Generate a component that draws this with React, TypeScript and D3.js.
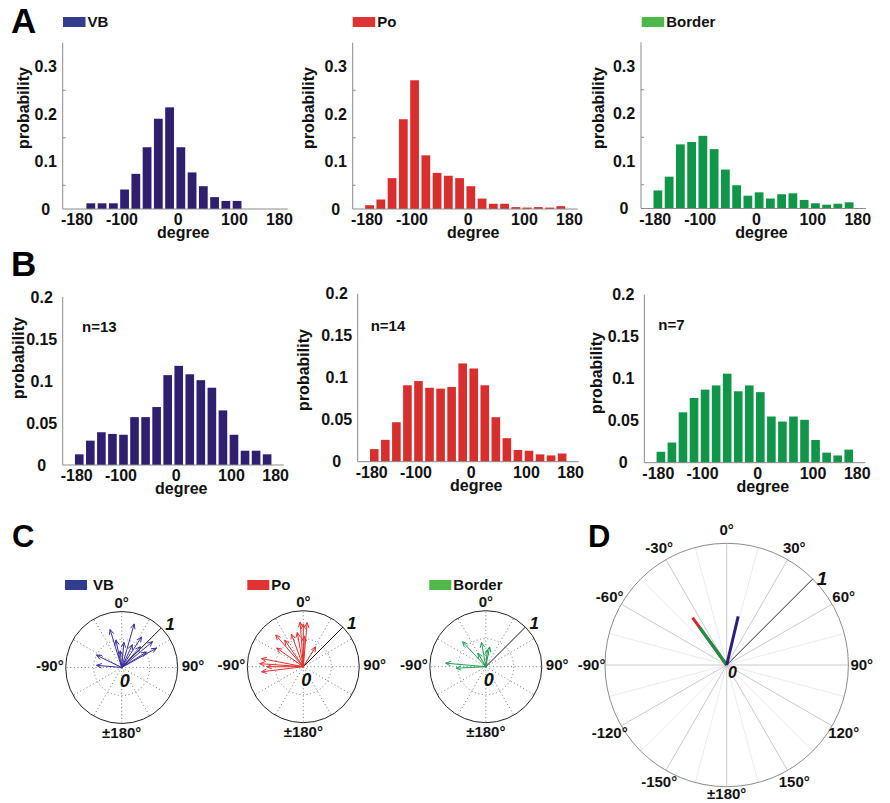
import React from 'react';
import * as d3 from 'd3';

// ---------- data ----------
const binCenters = [-170, -150, -130, -110, -90, -70, -50, -30, -10, 10, 30, 50, 70, 90, 110, 130, 150, 170];
const xTickValues = [-180, -100, 0, 100, 180];
const xTickLabels = ['-180', '-100', '0', '100', '180'];
const aYTicks = [0, 0.1, 0.2, 0.3];
const aYTickLabels = ['0', '0.1', '0.2', '0.3'];
const aMinorTicks = [0.05, 0.15, 0.25];
const bYTicks = [0, 0.05, 0.1, 0.15, 0.2];
const bYTickLabels = ['0', '0.05', '0.1', '0.15', '0.2'];
const groupNames = ['VB', 'Po', 'Border'];
const nLabels = ['n=13', 'n=14', 'n=7'];

const aVB = [0, 0.012, 0.012, 0.012, 0.041, 0.074, 0.130, 0.190, 0.214, 0.130, 0.077, 0.048, 0.025, 0.017, 0.017, 0, 0, 0];
const aPo = [0.008, 0.020, 0.065, 0.189, 0.271, 0.113, 0.076, 0.070, 0.065, 0.048, 0.022, 0.011, 0.011, 0.004, 0.003, 0.004, 0.003, 0.006];
const aBorder = [0.038, 0.067, 0.135, 0.140, 0.153, 0.125, 0.082, 0.049, 0.027, 0.034, 0.021, 0.030, 0.032, 0.018, 0.011, 0.008, 0.010, 0.013];

const bVB = [0.0127, 0.029, 0.039, 0.037, 0.036, 0.057, 0.057, 0.069, 0.107, 0.118, 0.108, 0.101, 0.092, 0.065, 0.036, 0.017, 0.017, 0.0127];
const bPo = [0.015, 0.026, 0.047, 0.091, 0.096, 0.088, 0.087, 0.089, 0.117, 0.111, 0.091, 0.053, 0.028, 0.014, 0.013, 0.0087, 0.0075, 0.0098];
const bBorder = [0.013, 0.024, 0.060, 0.077, 0.087, 0.092, 0.106, 0.085, 0.092, 0.084, 0.055, 0.049, 0.055, 0.051, 0.027, 0.012, 0.0086, 0.0156];

// compass arrows (angle in degrees, 0 = up, clockwise positive; length as fraction of 1)
const cVBAngles = [-17, 16, 33, 50, 61, 58, -64, -85, -12, 5, 25, 42, -5];
const cVBLengths = [0.71, 0.81, 0.65, 0.72, 0.71, 0.52, 0.50, 0.45, 0.50, 0.45, 0.45, 0.50, 0.30];
const cPoAngles = [-4, 5, 0, -41, -35, -20, -10, -55, -79, -86, -97, -90, 32, 2];
const cPoLengths = [0.80, 0.79, 0.76, 0.75, 0.58, 0.62, 0.62, 0.58, 0.76, 0.78, 0.75, 0.65, 0.42, 0.55];
const cBorderAngles = [-43, -10, 11, -30, -85, -93, 5];
const cBorderLengths = [0.61, 0.44, 0.36, 0.28, 0.72, 0.53, 0.30];

// population vectors (panel D), drawn in this order
const dNames = ['Po', 'Border', 'VB'];
const dAngles = [-35.8, -35.8, 13.3];
const dLengths = [0.48, 0.38, 0.41];

const polarLabelAngles = [0, 30, 60, 90, 120, 150, 180, -150, -120, -90, -60, -30];
const polarLabelTexts = ['0°', '30°', '60°', '90°', '120°', '150°', '±180°', '-150°', '-120°', '-90°', '-60°', '-30°'];

// ---------- styles ----------
const FONT = "'Liberation Sans', Arial, Helvetica, sans-serif";
const barColors: Record<string, string> = { VB: '#2f1f6e', Po: '#d92e2e', Border: '#119548' };
const legendColors: Record<string, string> = { VB: '#313d8f', Po: '#e03434', Border: '#4fb84a' };
const arrowColors: Record<string, string> = { VB: '#3b2e9c', Po: '#e3312f', Border: '#1ba150' };
const dColors: Record<string, string> = { VB: '#2c1f82', Po: '#d62a2a', Border: '#159445' };
const AXIS_GRAY = '#8a8a8a';

const polarXY = (cx: number, cy: number, r: number, deg: number) => {
  const a = (deg * Math.PI) / 180;
  return [cx + r * Math.sin(a), cy - r * Math.cos(a)];
};

type HistProps = {
  axisX: number; zeroY: number; w: number; h: number; ymax: number;
  data: number[]; color: string; ticks: number[]; tickLabels: string[]; minor?: number[];
  tickLabelDx: number; ylabX: number; ylabY: number; n?: string; nDx?: number; nY?: number;
};

function Hist(p: HistProps) {
  const x = d3.scaleLinear().domain([-200, 200]).range([p.axisX, p.axisX + p.w]);
  const y = d3.scaleLinear().domain([0, p.ymax]).range([p.zeroY, p.zeroY - p.h]);
  const band = x(20) - x(0);
  const bw = band * 0.78;
  return (
    <g fontFamily={FONT} fontWeight="bold">
      {binCenters.map((c, i) => p.data[i] > 0 ? (
        <rect key={i} x={x(c) - bw / 2} y={y(p.data[i])} width={bw} height={p.zeroY - y(p.data[i])} fill={p.color} />
      ) : null)}
      <line x1={p.axisX} x2={p.axisX} y1={p.zeroY} y2={p.zeroY - p.h} stroke={AXIS_GRAY} strokeWidth={1} />
      <line x1={p.axisX} x2={p.axisX + p.w} y1={p.zeroY} y2={p.zeroY} stroke={AXIS_GRAY} strokeWidth={1} />
      {(p.minor || []).map((t, i) => (
        <line key={'m' + i} x1={p.axisX} x2={p.axisX + 3} y1={y(t)} y2={y(t)} stroke={AXIS_GRAY} strokeWidth={1} />
      ))}
      {p.ticks.map((t, i) => (
        <text key={'t' + i} x={p.axisX + p.tickLabelDx} y={y(t) + 5.5} fontSize={16} textAnchor="middle" fill="#111">{p.tickLabels[i]}</text>
      ))}
      {xTickValues.map((t, i) => (
        <text key={'x' + i} x={x(t) + 3} y={p.zeroY + 16} fontSize={16} textAnchor="middle" fill="#111">{xTickLabels[i]}</text>
      ))}
      <text x={x(0) + 8} y={p.zeroY + 29} fontSize={16} textAnchor="middle" fill="#111">degree</text>
      <text transform={`translate(${p.ylabX},${p.ylabY}) rotate(-90)`} fontSize={16} textAnchor="middle" fill="#111">probability</text>
      {p.n ? <text x={p.axisX + (p.nDx || 0)} y={p.nY} fontSize={15} fill="#111">{p.n}</text> : null}
    </g>
  );
}

type CompassProps = { cx: number; cy: number; R: number; angles: number[]; lengths: number[]; color: string };

function Compass({ cx, cy, R, angles, lengths, color }: CompassProps) {
  const r = d3.scaleLinear().domain([0, 1]).range([0, R]);
  const spokes = d3.range(0, 360, 30);
  const [ux, uy] = polarXY(cx, cy, r(1), 45);
  return (
    <g fontFamily={FONT} fontWeight="bold">
      <circle cx={cx} cy={cy} r={r(0.5)} fill="none" stroke="#777" strokeWidth={1} strokeDasharray="1 2.6" />
      {spokes.map((a) => {
        const [x2, y2] = polarXY(cx, cy, r(1), a);
        return <line key={a} x1={cx} y1={cy} x2={x2} y2={y2} stroke="#777" strokeWidth={1} strokeDasharray="1 2.6" />;
      })}
      <circle cx={cx} cy={cy} r={r(1)} fill="none" stroke="#222" strokeWidth={1} />
      <line x1={cx} y1={cy} x2={ux} y2={uy} stroke="#111" strokeWidth={1} />
      {angles.map((a, i) => {
        const [tx, ty] = polarXY(cx, cy, r(lengths[i]), a);
        const [h1x, h1y] = polarXY(tx, ty, 5.5, a + 180 - 24);
        const [h2x, h2y] = polarXY(tx, ty, 5.5, a + 180 + 24);
        return (
          <g key={i} stroke={color} strokeWidth={1} fill="none">
            <line x1={cx} y1={cy} x2={tx} y2={ty} />
            <polyline points={`${h1x},${h1y} ${tx},${ty} ${h2x},${h2y}`} />
          </g>
        );
      })}
      <text x={cx} y={cy - R - 3.5} fontSize={15} textAnchor="middle" fill="#111">0°</text>
      <text x={cx + R + 4} y={cy + 3} fontSize={15} textAnchor="start" fill="#111">90°</text>
      <text x={cx - R - 2} y={cy + 3} fontSize={15} textAnchor="end" fill="#111">-90°</text>
      <text x={cx} y={cy + R + 14} fontSize={15} textAnchor="middle" fill="#111">±180°</text>
      <text x={ux + 4} y={uy + 2} fontSize={17} fontStyle="italic" fill="#111">1</text>
      <text x={cx - 2} y={cy + 19.5} fontSize={18} fontStyle="italic" fill="#111">0</text>
    </g>
  );
}

function PolarD({ cx, cy, R }: { cx: number; cy: number; R: number }) {
  const r = d3.scaleLinear().domain([0, 1]).range([0, R]);
  const major = d3.range(0, 360, 30);
  const faint = d3.range(15, 360, 30);
  const [ux, uy] = polarXY(cx, cy, r(1), 45);
  return (
    <g fontFamily={FONT} fontWeight="bold">
      {faint.map((a) => {
        const [x2, y2] = polarXY(cx, cy, r(1), a);
        return <line key={'f' + a} x1={cx} y1={cy} x2={x2} y2={y2} stroke="#ececec" strokeWidth={1} />;
      })}
      {major.map((a) => {
        const [x2, y2] = polarXY(cx, cy, r(1), a);
        return <line key={a} x1={cx} y1={cy} x2={x2} y2={y2} stroke="#c4c4c4" strokeWidth={0.9} />;
      })}
      <circle cx={cx} cy={cy} r={r(1)} fill="none" stroke="#8c8c8c" strokeWidth={1} />
      <line x1={cx} y1={cy} x2={ux} y2={uy} stroke="#333" strokeWidth={1} />
      {dNames.map((nm, i) => {
        const [tx, ty] = polarXY(cx, cy, r(dLengths[i]), dAngles[i]);
        return <line key={nm} x1={cx} y1={cy} x2={tx} y2={ty} stroke={dColors[nm]} strokeWidth={3} />;
      })}
      {polarLabelAngles.map((a, i) => {
        const [lx, ly] = polarXY(cx, cy, r(a === 180 ? 1.06 : 1.11), a);
        return <text key={'l' + a} x={lx} y={ly + 5} fontSize={15} textAnchor="middle" fill="#111">{polarLabelTexts[i]}</text>;
      })}
      <text x={ux + 4} y={uy + 6} fontSize={19} fontStyle="italic" fill="#111">1</text>
      <text x={cx + 1.3} y={cy + 13.3} fontSize={16} fontStyle="italic" fill="#111">0</text>
    </g>
  );
}

function Legend({ x, y, name, w }: { x: number; y: number; name: string; w: number }) {
  return (
    <g fontFamily={FONT} fontWeight="bold">
      <rect x={x} y={y} width={w} height={10} fill={legendColors[name]} />
      <text x={x + w + (name === 'VB' && y > 500 ? 6 : 2)} y={y + 10} fontSize={15} fill="#111">{name}</text>
    </g>
  );
}

export default function App() {
  const aData = [aVB, aPo, aBorder];
  const bData = [bVB, bPo, bBorder];
  const aAxisX = [62.7, 352.7, 641];
  const aZero = [209, 209, 208.5];
  const aYlabX = [29, 314, 603.7];
  const bAxisX = [62.7, 357.7, 644.3];
  const bZero = [465, 461.7, 462.7];
  const bYlabX = [24, 308.7, 602];
  const bYlabY = [358, 370, 373];
  const bNDx = [19.3, 13, 14];
  const bNY = [332, 331, 330];
  const aLegX = [63, 352.7, 641.7];
  const cLegX = [65, 247.3, 429.3];
  const cCenters = [[121.7, 667.5], [303.3, 666.7], [485.8, 666.7]];
  const cAngles = [cVBAngles, cPoAngles, cBorderAngles];
  const cLengths = [cVBLengths, cPoLengths, cBorderLengths];
  return (
    <svg width={890} height={803} style={{ position: 'absolute', left: 0, top: 0, background: '#fff' }}>
      <rect x={0} y={0} width={890} height={803} fill="#fff" />
      <g fontFamily={FONT} fontWeight="bold" fill="#000">
        <text x={11} y={33.3} fontSize={35}>A</text>
        <text x={11} y={276} fontSize={35}>B</text>
        <text x={12} y={547} fontSize={31}>C</text>
        <text x={588} y={546.7} fontSize={31}>D</text>
      </g>
      {groupNames.map((g, i) => (
        <Legend key={'la' + g} x={aLegX[i]} y={17} name={g} w={22.5} />
      ))}
      {groupNames.map((g, i) => (
        <Hist key={'a' + g} axisX={aAxisX[i]} zeroY={aZero[i]} w={225} h={166.25} ymax={0.35}
          data={aData[i]} color={barColors[g]} ticks={aYTicks} tickLabels={aYTickLabels} minor={aMinorTicks}
          tickLabelDx={-17} ylabX={aYlabX[i]} ylabY={108} />
      ))}
      {groupNames.map((g, i) => (
        <Hist key={'b' + g} axisX={bAxisX[i]} zeroY={bZero[i]} w={221} h={168} ymax={0.2}
          data={bData[i]} color={barColors[g]} ticks={bYTicks} tickLabels={bYTickLabels}
          tickLabelDx={-21} ylabX={bYlabX[i]} ylabY={bYlabY[i]} n={nLabels[i]} nDx={bNDx[i]} nY={bNY[i]} />
      ))}
      {groupNames.map((g, i) => (
        <Legend key={'lc' + g} x={cLegX[i]} y={580} name={g} w={22} />
      ))}
      {groupNames.map((g, i) => (
        <Compass key={'c' + g} cx={cCenters[i][0]} cy={cCenters[i][1]} R={56}
          angles={cAngles[i]} lengths={cLengths[i]} color={arrowColors[g]} />
      ))}
      <PolarD cx={726.7} cy={665} R={121.7} />
    </svg>
  );
}
